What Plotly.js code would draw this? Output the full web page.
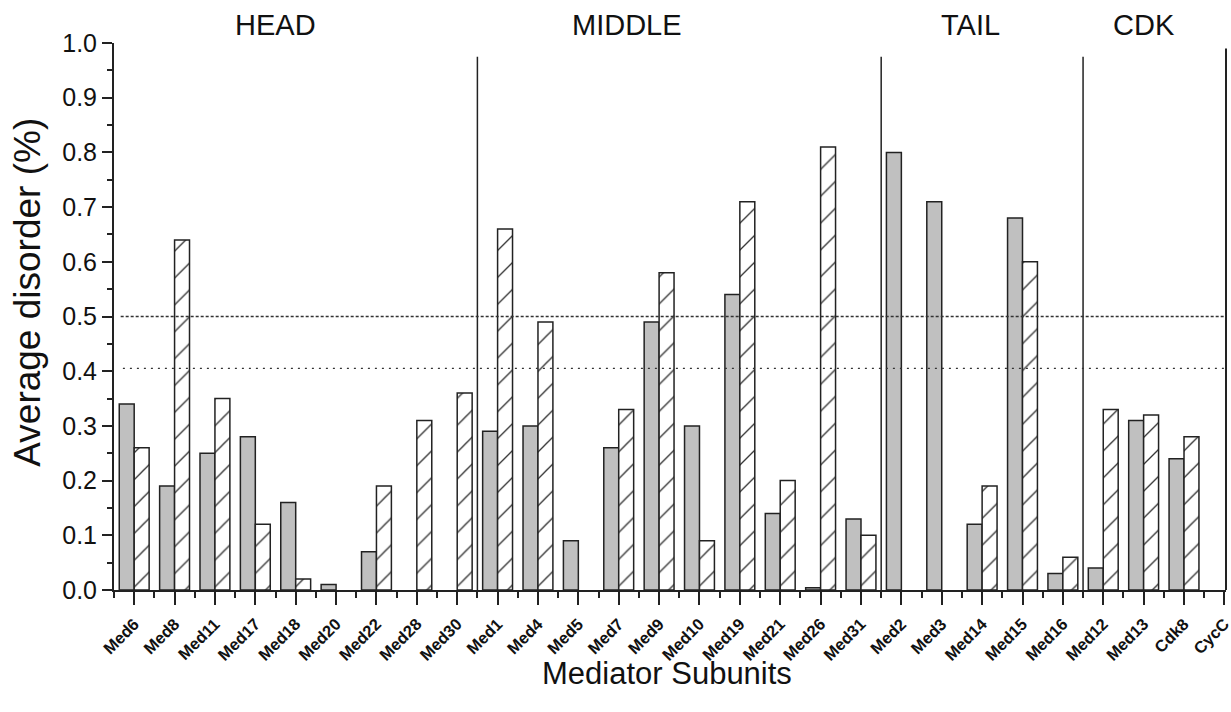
<!DOCTYPE html>
<html>
<head>
<meta charset="utf-8">
<script src="https://cdn.plot.ly/plotly-3.0.1.min.js"></script>
<style>html,body{margin:0;padding:0;background:#fff;}#chart{width:1231px;height:712px;}</style>
</head>
<body>
<div id="chart"></div>
<script>
// ---- data ----
const categories = ["Med6","Med8","Med11","Med17","Med18","Med20","Med22","Med28","Med30",
  "Med1","Med4","Med5","Med7","Med9","Med10","Med19","Med21","Med26","Med31",
  "Med2","Med3","Med14","Med15","Med16",
  "Med12","Med13","Cdk8","CycC"];
const solidValues = [0.34,0.19,0.25,0.28,0.16,0.01,0.07,null,null,
  0.29,0.30,0.09,0.26,0.49,0.30,0.54,0.14,0.004,0.13,
  0.80,0.71,0.12,0.68,0.03,
  0.04,0.31,0.24,null];
const hatchedValues = [0.26,0.64,0.35,0.12,0.02,null,0.19,0.31,0.36,
  0.66,0.49,null,0.33,0.58,0.09,0.71,0.20,0.81,0.10,
  null,null,0.19,0.60,0.06,
  0.33,0.32,0.28,null];
const groupNames = ["HEAD","MIDDLE","TAIL","CDK"];
const groupSizes = [9,10,5,4];
const thresholds = [0.5, 0.405];

// ---- build ----
const xs = categories.map((_, i) => i);
const dark = '#222';
const font = 'Liberation Sans, Arial, sans-serif';

const traces = [
  {type:'bar', x: xs, y: solidValues, width: 0.37, offset: -0.37,
   marker:{color:'#c0c0c0', line:{color:dark, width:1.5}}, hoverinfo:'x+y'},
  {type:'bar', x: xs, y: hatchedValues, width: 0.37, offset: 0,
   marker:{color:'white', line:{color:dark, width:1.5},
     pattern:{shape:'/', fgcolor:'#333', bgcolor:'white', size:19, solidity:0.07, fillmode:'replace'}},
   hoverinfo:'x+y'}
];

// group separators derived from group sizes
const shapes = [];
let acc = 0;
const boundaries = [];
groupSizes.forEach((n, gi) => { acc += n; if (gi < groupSizes.length - 1) boundaries.push(acc - 0.5); });
boundaries.forEach(b => shapes.push({type:'line', xref:'x', yref:'y', x0:b, x1:b, y0:0, y1:0.975,
  line:{color:dark, width:1.5}}));
shapes.push({type:'line', xref:'paper', yref:'y', x0:1, x1:1, y0:0, y1:0.99, line:{color:dark, width:2}});
shapes.push({type:'line', xref:'paper', yref:'y', x0:0.006, x1:1, y0:thresholds[0], y1:thresholds[0],
  line:{color:'#333', width:1.3, dash:'3px,2px'}});
shapes.push({type:'line', xref:'paper', yref:'y', x0:0.008, x1:1, y0:thresholds[1], y1:thresholds[1],
  line:{color:'#333', width:1.3, dash:'2px,5px'}});

const groupLabelX = [3.49, 12.2, 20.7, 25.0];
const annotations = groupNames.map((g, i) => ({
  text: g, xref:'x', yref:'paper', x: groupLabelX[i], y: 1.033, yanchor:'middle', xanchor:'center',
  showarrow:false, font:{family:font, size:29, color:'#111'}
}));
annotations.push({text:'Mediator Subunits', xref:'paper', yref:'paper', x:0.4975, y:-0.153,
  xanchor:'center', yanchor:'middle', showarrow:false, font:{family:font, size:31, color:'#111'}});
annotations.push({text:'Average disorder (%)', xref:'paper', yref:'paper', x:-0.0775, y:0.545,
  xanchor:'center', yanchor:'middle', textangle:-90, showarrow:false, font:{family:font, size:37, color:'#111'}});

const minorX = [-0.5].concat(xs.slice(0, -1).map(v => v + 0.5));

const layout = {
  width:1231, height:712,
  margin:{l:114, r:5, t:43, b:122},
  paper_bgcolor:'white', plot_bgcolor:'white',
  showlegend:false,
  barmode:'overlay',
  xaxis:{range:[-0.5, 27.04], tickmode:'array', tickvals: xs, ticktext: categories,
    tickangle:-45, ticks:'outside', ticklen:13, tickwidth:2, tickcolor:dark,
    ticklabeloverflow:'allow', ticklabelstandoff:3,
    tickfont:{family:font, size:16.5, color:'#111', weight:'bold'},
    showline:true, linewidth:2, linecolor:dark, showgrid:false, zeroline:false, automargin:false,
    minor:{tickmode:'array', tickvals:minorX, ticks:'outside', ticklen:6, tickwidth:2, tickcolor:dark}},
  yaxis:{range:[0,1], dtick:0.1, tick0:0, tickformat:'.1f', ticks:'outside', ticklen:10, tickwidth:2, tickcolor:dark,
    tickfont:{family:font, size:25, color:'#111'},
    showline:true, linewidth:2, linecolor:dark, showgrid:false, zeroline:false, automargin:false,
    minor:{dtick:0.05, ticks:'outside', ticklen:5, tickwidth:2, tickcolor:dark}},
  shapes: shapes,
  annotations: annotations
};

Plotly.newPlot('chart', traces, layout, {displayModeBar:false, staticPlot:true});
</script>
</body>
</html>
